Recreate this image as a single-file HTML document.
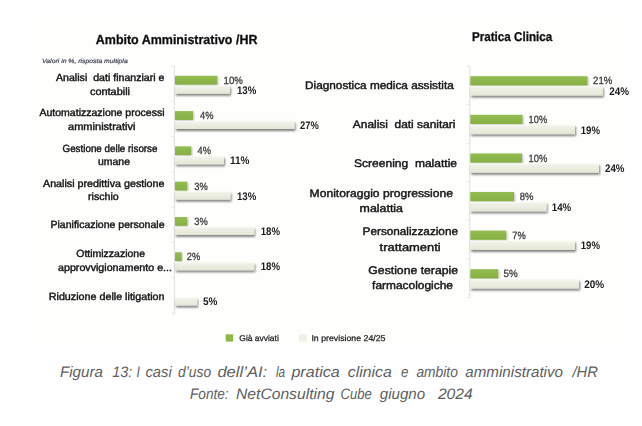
<!DOCTYPE html>
<html><head><meta charset="utf-8"><title>Figura 13</title>
<style>html,body{margin:0;padding:0;background:#fff;}body{width:642px;height:426px;overflow:hidden;font-family:"Liberation Sans",sans-serif;}svg{display:block;}text{font-family:"Liberation Sans",sans-serif;text-rendering:geometricPrecision;}</style></head><body>
<svg width="642" height="426" viewBox="0 0 642 426">
<defs>
<filter id="sh" x="-5%" y="-30%" width="112%" height="190%"><feGaussianBlur in="SourceAlpha" stdDeviation="0.9"/><feOffset dx="1.2" dy="1.6" result="o"/><feComponentTransfer><feFuncA type="linear" slope="0.5"/></feComponentTransfer><feMerge><feMergeNode/><feMergeNode in="SourceGraphic"/></feMerge></filter>
<filter id="shg" x="-5%" y="-30%" width="112%" height="190%"><feGaussianBlur in="SourceAlpha" stdDeviation="0.9"/><feOffset dx="1.2" dy="1.4" result="o"/><feComponentTransfer><feFuncA type="linear" slope="0.28"/></feComponentTransfer><feMerge><feMergeNode/><feMergeNode in="SourceGraphic"/></feMerge></filter>
<filter id="bl" x="0" y="0" width="642" height="426" filterUnits="userSpaceOnUse"><feGaussianBlur stdDeviation="0.4"/></filter>
<linearGradient id="gg" x1="0" y1="0" x2="0" y2="1"><stop offset="0" stop-color="#93bd52"/><stop offset="1" stop-color="#86b043"/></linearGradient>
<linearGradient id="lg" x1="0" y1="0" x2="0" y2="1"><stop offset="0" stop-color="#fafaf6"/><stop offset="0.22" stop-color="#eff1e6"/><stop offset="1" stop-color="#e4e7d6"/></linearGradient>
</defs>
<rect x="0" y="0" width="642" height="426" fill="#ffffff"/>
<rect x="24" y="16" width="598" height="330" fill="#fefefd"/>
<g filter="url(#bl)">
<g stroke="#dedede" stroke-width="1" fill="none">
<path d="M174.4 66 V314.5"/>
<path d="M469.8 66 V298"/>
<path d="M171.4 66.0 H174.4" stroke="#e6e6e6"/>
<path d="M171.4 101.3 H174.4" stroke="#e6e6e6"/>
<path d="M171.4 136.6 H174.4" stroke="#e6e6e6"/>
<path d="M171.4 171.9 H174.4" stroke="#e6e6e6"/>
<path d="M171.4 207.2 H174.4" stroke="#e6e6e6"/>
<path d="M171.4 242.5 H174.4" stroke="#e6e6e6"/>
<path d="M171.4 277.8 H174.4" stroke="#e6e6e6"/>
<path d="M171.4 313.1 H174.4" stroke="#e6e6e6"/>
<path d="M466.8 66.0 H469.8" stroke="#e6e6e6"/>
<path d="M466.8 104.6 H469.8" stroke="#e6e6e6"/>
<path d="M466.8 143.2 H469.8" stroke="#e6e6e6"/>
<path d="M466.8 181.8 H469.8" stroke="#e6e6e6"/>
<path d="M466.8 220.4 H469.8" stroke="#e6e6e6"/>
<path d="M466.8 259.0 H469.8" stroke="#e6e6e6"/>
<path d="M466.8 297.6 H469.8" stroke="#e6e6e6"/>
</g>
<rect x="175.0" y="75.8" width="42.3" height="8.8" fill="url(#gg)" filter="url(#shg)"/>
<rect x="175.0" y="85.5" width="55.0" height="8.2" fill="url(#lg)" filter="url(#sh)"/>
<rect x="175.0" y="111.1" width="18.05" height="8.8" fill="url(#gg)" filter="url(#shg)"/>
<rect x="175.0" y="120.8" width="119.5" height="8.2" fill="url(#lg)" filter="url(#sh)"/>
<rect x="175.0" y="146.39999999999998" width="16.3" height="8.8" fill="url(#gg)" filter="url(#shg)"/>
<rect x="175.0" y="156.1" width="49.0" height="8.2" fill="url(#lg)" filter="url(#sh)"/>
<rect x="175.0" y="181.7" width="12.3" height="8.8" fill="url(#gg)" filter="url(#shg)"/>
<rect x="175.0" y="191.4" width="55.5" height="8.2" fill="url(#lg)" filter="url(#sh)"/>
<rect x="175.0" y="216.99999999999997" width="12.3" height="8.8" fill="url(#gg)" filter="url(#shg)"/>
<rect x="175.0" y="226.7" width="79.25" height="8.2" fill="url(#lg)" filter="url(#sh)"/>
<rect x="175.0" y="252.29999999999998" width="6.7" height="8.8" fill="url(#gg)" filter="url(#shg)"/>
<rect x="175.0" y="262.0" width="79.25" height="8.2" fill="url(#lg)" filter="url(#sh)"/>
<rect x="175.0" y="297.29999999999995" width="22.25" height="8.2" fill="url(#lg)" filter="url(#sh)"/>
<rect x="470.3" y="76.2" width="117.2" height="9.2" fill="url(#gg)" filter="url(#shg)"/>
<rect x="470.3" y="86.10000000000001" width="132.5" height="9.4" fill="url(#lg)" filter="url(#sh)"/>
<rect x="470.3" y="114.80000000000001" width="52.2" height="9.2" fill="url(#gg)" filter="url(#shg)"/>
<rect x="470.3" y="124.70000000000002" width="104.7" height="9.4" fill="url(#lg)" filter="url(#sh)"/>
<rect x="470.3" y="153.4" width="51.7" height="9.2" fill="url(#gg)" filter="url(#shg)"/>
<rect x="470.3" y="163.3" width="128.7" height="9.4" fill="url(#lg)" filter="url(#sh)"/>
<rect x="470.3" y="192.0" width="43.7" height="9.2" fill="url(#gg)" filter="url(#shg)"/>
<rect x="470.3" y="201.9" width="76.2" height="9.4" fill="url(#lg)" filter="url(#sh)"/>
<rect x="470.3" y="230.60000000000002" width="35.95" height="9.2" fill="url(#gg)" filter="url(#shg)"/>
<rect x="470.3" y="240.50000000000003" width="104.7" height="9.4" fill="url(#lg)" filter="url(#sh)"/>
<rect x="470.3" y="269.2" width="27.95" height="9.2" fill="url(#gg)" filter="url(#shg)"/>
<rect x="470.3" y="279.09999999999997" width="108.7" height="9.4" fill="url(#lg)" filter="url(#sh)"/>
<text x="95.8" y="44" font-size="13.2" font-weight="bold" font-style="normal" fill="#111" textLength="161.6" lengthAdjust="spacingAndGlyphs"  stroke="#111" stroke-width="0.3">Ambito Amministrativo /HR</text>
<text x="471.9" y="41" font-size="12.8" font-weight="bold" font-style="normal" fill="#111" textLength="80.4" lengthAdjust="spacingAndGlyphs"  stroke="#111" stroke-width="0.3">Pratica Clinica</text>
<text x="42" y="62.6" font-size="6.2" font-weight="normal" font-style="italic" fill="#3f4454" textLength="85.7" lengthAdjust="spacingAndGlyphs"  stroke="#3f4454" stroke-width="0.2">Valori in %, risposta multipla</text>
<text x="56" y="81.1" font-size="10.4" font-weight="normal" font-style="normal" fill="#151515" textLength="108.5" lengthAdjust="spacingAndGlyphs"  stroke="#151515" stroke-width="0.42">Analisi&#160; dati finanziari e</text>
<text x="90" y="95.35" font-size="10.4" font-weight="normal" font-style="normal" fill="#151515" textLength="40" lengthAdjust="spacingAndGlyphs"  stroke="#151515" stroke-width="0.42">contabili</text>
<text x="39.5" y="115.85" font-size="10.4" font-weight="normal" font-style="normal" fill="#151515" textLength="125.0" lengthAdjust="spacingAndGlyphs"  stroke="#151515" stroke-width="0.42">Automatizzazione processi</text>
<text x="68" y="129.85" font-size="10.4" font-weight="normal" font-style="normal" fill="#151515" textLength="67.5" lengthAdjust="spacingAndGlyphs"  stroke="#151515" stroke-width="0.42">amministrativi</text>
<text x="62.5" y="151.6" font-size="10.4" font-weight="normal" font-style="normal" fill="#151515" textLength="95.0" lengthAdjust="spacingAndGlyphs"  stroke="#151515" stroke-width="0.42">Gestione delle risorse</text>
<text x="98" y="165.35" font-size="10.4" font-weight="normal" font-style="normal" fill="#151515" textLength="32" lengthAdjust="spacingAndGlyphs"  stroke="#151515" stroke-width="0.42">umane</text>
<text x="43" y="187.1" font-size="10.4" font-weight="normal" font-style="normal" fill="#151515" textLength="121.5" lengthAdjust="spacingAndGlyphs"  stroke="#151515" stroke-width="0.42">Analisi predittiva gestione</text>
<text x="88" y="200.35" font-size="10.4" font-weight="normal" font-style="normal" fill="#151515" textLength="30.75" lengthAdjust="spacingAndGlyphs"  stroke="#151515" stroke-width="0.42">rischio</text>
<text x="50.5" y="228.35" font-size="10.4" font-weight="normal" font-style="normal" fill="#151515" textLength="114.0" lengthAdjust="spacingAndGlyphs"  stroke="#151515" stroke-width="0.42">Pianificazione personale</text>
<text x="76.25" y="257.35" font-size="10.4" font-weight="normal" font-style="normal" fill="#151515" textLength="68.75" lengthAdjust="spacingAndGlyphs"  stroke="#151515" stroke-width="0.42">Ottimizzazione</text>
<text x="58" y="270.85" font-size="10.4" font-weight="normal" font-style="normal" fill="#151515" textLength="114" lengthAdjust="spacingAndGlyphs"  stroke="#151515" stroke-width="0.42">approvvigionamento e...</text>
<text x="48.75" y="299.6" font-size="10.4" font-weight="normal" font-style="normal" fill="#151515" textLength="115.75" lengthAdjust="spacingAndGlyphs"  stroke="#151515" stroke-width="0.42">Riduzione delle litigation</text>
<text x="305.1" y="89.25" font-size="11.0" font-weight="normal" font-style="normal" fill="#151515" textLength="148.65" lengthAdjust="spacingAndGlyphs"  stroke="#151515" stroke-width="0.42">Diagnostica medica assistita</text>
<text x="352.85" y="127.75" font-size="11.0" font-weight="normal" font-style="normal" fill="#151515" textLength="102.65" lengthAdjust="spacingAndGlyphs"  stroke="#151515" stroke-width="0.42">Analisi&#160; dati sanitari</text>
<text x="354.1" y="166.75" font-size="11.0" font-weight="normal" font-style="normal" fill="#151515" textLength="102.9" lengthAdjust="spacingAndGlyphs"  stroke="#151515" stroke-width="0.42">Screening&#160; malattie</text>
<text x="309.6" y="196.75" font-size="11.0" font-weight="normal" font-style="normal" fill="#151515" textLength="143.4" lengthAdjust="spacingAndGlyphs"  stroke="#151515" stroke-width="0.42">Monitoraggio progressione</text>
<text x="359.6" y="212.25" font-size="11.0" font-weight="normal" font-style="normal" fill="#151515" textLength="43.4" lengthAdjust="spacingAndGlyphs"  stroke="#151515" stroke-width="0.42">malattia</text>
<text x="362.6" y="235.25" font-size="11.0" font-weight="normal" font-style="normal" fill="#151515" textLength="95.4" lengthAdjust="spacingAndGlyphs"  stroke="#151515" stroke-width="0.42">Personalizzazione</text>
<text x="379.6" y="251.0" font-size="11.0" font-weight="normal" font-style="normal" fill="#151515" textLength="61.15" lengthAdjust="spacingAndGlyphs"  stroke="#151515" stroke-width="0.42">trattamenti</text>
<text x="368.35" y="274.0" font-size="11.0" font-weight="normal" font-style="normal" fill="#151515" textLength="89.65" lengthAdjust="spacingAndGlyphs"  stroke="#151515" stroke-width="0.42">Gestione terapie</text>
<text x="372.1" y="289.25" font-size="11.0" font-weight="normal" font-style="normal" fill="#151515" textLength="80.9" lengthAdjust="spacingAndGlyphs"  stroke="#151515" stroke-width="0.42">farmacologiche</text>
<text x="223.6" y="84.35" font-size="10.5" font-weight="normal" font-style="normal" fill="#3c3c3c" textLength="19.2" lengthAdjust="spacingAndGlyphs"  stroke="#3c3c3c" stroke-width="0.3">10%</text>
<text x="237" y="93.55" font-size="11.0" font-weight="bold" font-style="normal" fill="#1a1a1a" textLength="19.25" lengthAdjust="spacingAndGlyphs" >13%</text>
<text x="200.1" y="119.1" font-size="10.5" font-weight="normal" font-style="normal" fill="#3c3c3c" textLength="13.45" lengthAdjust="spacingAndGlyphs"  stroke="#3c3c3c" stroke-width="0.3">4%</text>
<text x="300" y="128.55" font-size="11.0" font-weight="bold" font-style="normal" fill="#1a1a1a" textLength="18.75" lengthAdjust="spacingAndGlyphs" >27%</text>
<text x="197.6" y="154.35" font-size="10.5" font-weight="normal" font-style="normal" fill="#3c3c3c" textLength="13.45" lengthAdjust="spacingAndGlyphs"  stroke="#3c3c3c" stroke-width="0.3">4%</text>
<text x="230" y="163.8" font-size="11.0" font-weight="bold" font-style="normal" fill="#1a1a1a" textLength="19.5" lengthAdjust="spacingAndGlyphs" >11%</text>
<text x="194.35" y="189.6" font-size="10.5" font-weight="normal" font-style="normal" fill="#3c3c3c" textLength="13.45" lengthAdjust="spacingAndGlyphs"  stroke="#3c3c3c" stroke-width="0.3">3%</text>
<text x="237" y="199.55" font-size="11.0" font-weight="bold" font-style="normal" fill="#1a1a1a" textLength="19.25" lengthAdjust="spacingAndGlyphs" >13%</text>
<text x="194.35" y="224.6" font-size="10.5" font-weight="normal" font-style="normal" fill="#3c3c3c" textLength="13.45" lengthAdjust="spacingAndGlyphs"  stroke="#3c3c3c" stroke-width="0.3">3%</text>
<text x="260.75" y="234.55" font-size="11.0" font-weight="bold" font-style="normal" fill="#1a1a1a" textLength="19.25" lengthAdjust="spacingAndGlyphs" >18%</text>
<text x="186.85" y="260.1" font-size="10.5" font-weight="normal" font-style="normal" fill="#3c3c3c" textLength="13.45" lengthAdjust="spacingAndGlyphs"  stroke="#3c3c3c" stroke-width="0.3">2%</text>
<text x="260.75" y="269.8" font-size="11.0" font-weight="bold" font-style="normal" fill="#1a1a1a" textLength="19.25" lengthAdjust="spacingAndGlyphs" >18%</text>
<text x="203" y="304.8" font-size="11.0" font-weight="bold" font-style="normal" fill="#1a1a1a" textLength="14.5" lengthAdjust="spacingAndGlyphs" >5%</text>
<text x="593.1" y="84.35" font-size="10.5" font-weight="normal" font-style="normal" fill="#3c3c3c" textLength="19.2" lengthAdjust="spacingAndGlyphs"  stroke="#3c3c3c" stroke-width="0.3">21%</text>
<text x="609.25" y="94.8" font-size="11.0" font-weight="bold" font-style="normal" fill="#1a1a1a" textLength="19.75" lengthAdjust="spacingAndGlyphs" >24%</text>
<text x="528.6" y="123.1" font-size="10.5" font-weight="normal" font-style="normal" fill="#3c3c3c" textLength="18.7" lengthAdjust="spacingAndGlyphs"  stroke="#3c3c3c" stroke-width="0.3">10%</text>
<text x="580.75" y="133.55" font-size="11.0" font-weight="bold" font-style="normal" fill="#1a1a1a" textLength="19.25" lengthAdjust="spacingAndGlyphs" >19%</text>
<text x="528.6" y="161.75" font-size="10.5" font-weight="normal" font-style="normal" fill="#3c3c3c" textLength="18.7" lengthAdjust="spacingAndGlyphs"  stroke="#3c3c3c" stroke-width="0.3">10%</text>
<text x="605" y="172.3" font-size="11.0" font-weight="bold" font-style="normal" fill="#1a1a1a" textLength="19.5" lengthAdjust="spacingAndGlyphs" >24%</text>
<text x="519.85" y="199.85" font-size="10.5" font-weight="normal" font-style="normal" fill="#3c3c3c" textLength="13.7" lengthAdjust="spacingAndGlyphs"  stroke="#3c3c3c" stroke-width="0.3">8%</text>
<text x="551.75" y="211.05" font-size="11.0" font-weight="bold" font-style="normal" fill="#1a1a1a" textLength="19.5" lengthAdjust="spacingAndGlyphs" >14%</text>
<text x="512.35" y="238.6" font-size="10.5" font-weight="normal" font-style="normal" fill="#3c3c3c" textLength="13.45" lengthAdjust="spacingAndGlyphs"  stroke="#3c3c3c" stroke-width="0.3">7%</text>
<text x="580.75" y="249.3" font-size="11.0" font-weight="bold" font-style="normal" fill="#1a1a1a" textLength="19.25" lengthAdjust="spacingAndGlyphs" >19%</text>
<text x="503.6" y="277.35" font-size="10.5" font-weight="normal" font-style="normal" fill="#3c3c3c" textLength="14.2" lengthAdjust="spacingAndGlyphs"  stroke="#3c3c3c" stroke-width="0.3">5%</text>
<text x="584.25" y="288.05" font-size="11.0" font-weight="bold" font-style="normal" fill="#1a1a1a" textLength="20.0" lengthAdjust="spacingAndGlyphs" >20%</text>
<rect x="225.7" y="334.3" width="7.4" height="7.3" fill="#8db74a"/>
<rect x="299" y="334.3" width="8" height="7.3" fill="#f0f2e8"/>
<text x="239.3" y="340.9" font-size="8.4" font-weight="normal" font-style="normal" fill="#222" textLength="39.5" lengthAdjust="spacingAndGlyphs"  stroke="#222" stroke-width="0.25">Già avviati</text>
<text x="311.4" y="340.9" font-size="8.4" font-weight="normal" font-style="normal" fill="#222" textLength="74.1" lengthAdjust="spacingAndGlyphs"  stroke="#222" stroke-width="0.25">In previsione 24/25</text>
</g>
<text x="60" y="377.2" font-size="15.2" font-weight="normal" font-style="italic" fill="#606060" textLength="42.9" lengthAdjust="spacingAndGlyphs" >Figura</text>
<text x="112.3" y="377.2" font-size="15.2" font-weight="normal" font-style="italic" fill="#606060" textLength="20.0" lengthAdjust="spacingAndGlyphs" >13:</text>
<text x="136.6" y="377.2" font-size="15.2" font-weight="normal" font-style="italic" fill="#606060" textLength="3.4" lengthAdjust="spacingAndGlyphs" >I</text>
<text x="145.5" y="377.2" font-size="15.2" font-weight="normal" font-style="italic" fill="#606060" textLength="26.2" lengthAdjust="spacingAndGlyphs" >casi</text>
<text x="178" y="377.2" font-size="15.2" font-weight="normal" font-style="italic" fill="#606060" textLength="33.1" lengthAdjust="spacingAndGlyphs" >d’uso</text>
<text x="217.4" y="377.2" font-size="15.2" font-weight="normal" font-style="italic" fill="#606060" textLength="49.8" lengthAdjust="spacingAndGlyphs" >dell’AI:</text>
<text x="276" y="377.2" font-size="15.2" font-weight="normal" font-style="italic" fill="#606060" textLength="9.2" lengthAdjust="spacingAndGlyphs" >la</text>
<text x="291.4" y="377.2" font-size="15.2" font-weight="normal" font-style="italic" fill="#606060" textLength="48.4" lengthAdjust="spacingAndGlyphs" >pratica</text>
<text x="347.8" y="377.2" font-size="15.2" font-weight="normal" font-style="italic" fill="#606060" textLength="43.9" lengthAdjust="spacingAndGlyphs" >clinica</text>
<text x="401" y="377.2" font-size="15.2" font-weight="normal" font-style="italic" fill="#606060" textLength="7.4" lengthAdjust="spacingAndGlyphs" >e</text>
<text x="416.4" y="377.2" font-size="15.2" font-weight="normal" font-style="italic" fill="#606060" textLength="41.5" lengthAdjust="spacingAndGlyphs" >ambito</text>
<text x="465.3" y="377.2" font-size="15.2" font-weight="normal" font-style="italic" fill="#606060" textLength="97.7" lengthAdjust="spacingAndGlyphs" >amministrativo</text>
<text x="572.5" y="377.2" font-size="15.2" font-weight="normal" font-style="italic" fill="#606060" textLength="25.5" lengthAdjust="spacingAndGlyphs" >/HR</text>
<text x="190" y="398.9" font-size="15.2" font-weight="normal" font-style="italic" fill="#606060" textLength="38.6" lengthAdjust="spacingAndGlyphs" >Fonte:</text>
<text x="236" y="398.9" font-size="15.2" font-weight="normal" font-style="italic" fill="#606060" textLength="98.4" lengthAdjust="spacingAndGlyphs" >NetConsulting</text>
<text x="340.6" y="398.9" font-size="15.2" font-weight="normal" font-style="italic" fill="#606060" textLength="31.2" lengthAdjust="spacingAndGlyphs" >Cube</text>
<text x="379.8" y="398.9" font-size="15.2" font-weight="normal" font-style="italic" fill="#606060" textLength="45.3" lengthAdjust="spacingAndGlyphs" >giugno</text>
<text x="437.9" y="398.9" font-size="15.2" font-weight="normal" font-style="italic" fill="#606060" textLength="34.9" lengthAdjust="spacingAndGlyphs" >2024</text>
</svg></body></html>
